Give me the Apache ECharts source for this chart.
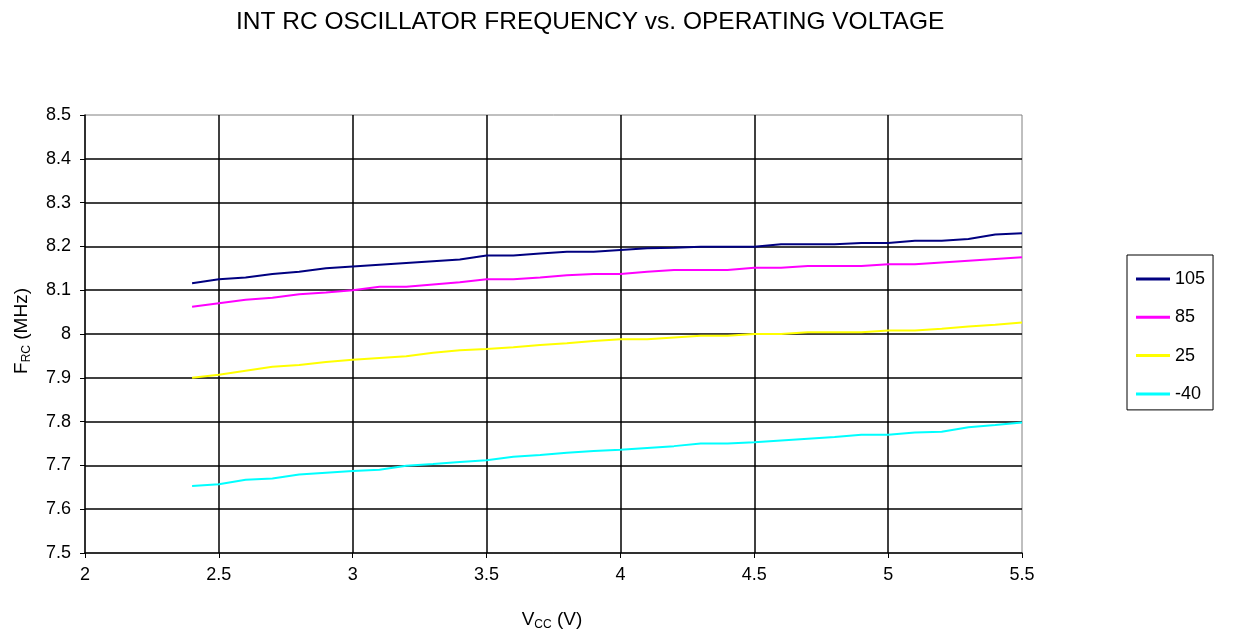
<!DOCTYPE html>
<html>
<head>
<meta charset="utf-8">
<script src="https://cdn.jsdelivr.net/npm/echarts@6/dist/echarts.min.js"></script>
<style>html,body{margin:0;padding:0;background:#fff}#c{width:1244px;height:637px}</style>
</head>
<body>
<div id="c"></div>
<script>
const vcc = [2.4,2.5,2.6,2.7,2.8,2.9,3.0,3.1,3.2,3.3,3.4,3.5,3.6,3.7,3.8,3.9,4.0,4.1,4.2,4.3,4.4,4.5,4.6,4.7,4.8,4.9,5.0,5.1,5.2,5.3,5.4,5.5];
const f105 = [8.116,8.125,8.129,8.137,8.142,8.150,8.154,8.158,8.162,8.166,8.170,8.179,8.179,8.184,8.188,8.188,8.192,8.196,8.197,8.199,8.199,8.199,8.205,8.205,8.205,8.208,8.208,8.213,8.213,8.217,8.227,8.230];
const f85 = [8.062,8.070,8.078,8.083,8.091,8.095,8.100,8.108,8.108,8.113,8.118,8.125,8.125,8.129,8.134,8.137,8.137,8.142,8.146,8.146,8.146,8.151,8.151,8.155,8.155,8.155,8.159,8.159,8.163,8.167,8.171,8.175];
const f25 = [7.900,7.907,7.916,7.925,7.929,7.936,7.941,7.945,7.949,7.957,7.963,7.966,7.970,7.975,7.979,7.984,7.988,7.988,7.992,7.996,7.996,8.000,8.000,8.004,8.004,8.004,8.008,8.008,8.012,8.017,8.021,8.026];
const fm40 = [7.653,7.657,7.667,7.670,7.679,7.683,7.687,7.690,7.699,7.703,7.708,7.712,7.720,7.724,7.729,7.733,7.736,7.740,7.744,7.750,7.750,7.753,7.757,7.761,7.765,7.770,7.770,7.775,7.777,7.787,7.792,7.798];
const seriesNames = ['105','85','25','-40'];
const seriesColors = ['#000080','#FF00FF','#FFFF00','#00FFFF'];
const seriesValues = [f105, f85, f25, fm40];

const FONT = '"Liberation Sans", Arial, sans-serif';
const chart = echarts.init(document.getElementById('c'));
chart.setOption({
  animation: false,
  backgroundColor: '#fff',
  textStyle: {fontFamily: FONT},
  title: {
    text: 'INT RC OSCILLATOR FREQUENCY vs. OPERATING VOLTAGE',
    left: 231, top: 5,
    textStyle: {fontFamily: FONT, fontSize: 24.5, fontWeight: 'normal', color: '#000'}
  },
  grid: {left: 85, right: 222, top: 115, bottom: 84, show: true, borderColor: '#808080', borderWidth: 1, backgroundColor: '#fff'},
  legend: {
    orient: 'vertical', left: 1127, top: 255,
    data: seriesNames,
    icon: 'rect', itemWidth: 34, itemHeight: 3, itemGap: 18.3,
    padding: [14, 8, 6, 9],
    borderColor: '#000', borderWidth: 1, backgroundColor: '#fff',
    textStyle: {fontFamily: FONT, fontSize: 18, color: '#000', lineHeight: 20}
  },
  xAxis: {
    type: 'value', min: 2, max: 5.5, interval: 0.5,
    axisLine: {show: true, lineStyle: {color: '#000', width: 1.5}},
    axisTick: {show: true, inside: false, length: 5, lineStyle: {color: '#000'}},
    axisLabel: {color: '#000', fontSize: 18, fontFamily: FONT, margin: 13, formatter: v => String(+v.toFixed(1))},
    splitLine: {show: true, showMinLine: false, showMaxLine: false, lineStyle: {color: '#000', width: 1.5}}
  },
  yAxis: {
    type: 'value', min: 7.5, max: 8.5, interval: 0.1,
    axisLine: {show: true, lineStyle: {color: '#000', width: 1.5}},
    axisTick: {show: true, inside: false, length: 5, lineStyle: {color: '#000'}},
    axisLabel: {color: '#000', fontSize: 18, fontFamily: FONT, margin: 14, formatter: v => String(+v.toFixed(1))},
    splitLine: {show: true, showMinLine: false, showMaxLine: false, lineStyle: {color: '#000', width: 1.5}}
  },
  graphic: [
    {
      type: 'text', x: 552, y: 620,
      style: {
        text: '{a|V}{b|CC}{a| (V)}',
        align: 'center', verticalAlign: 'middle',
        rich: {
          a: {fontSize: 19, fontFamily: FONT, fill: '#000', lineHeight: 22, verticalAlign: 'middle'},
          b: {fontSize: 12, fontFamily: FONT, fill: '#000', lineHeight: 12, verticalAlign: 'bottom'}
        }
      }
    },
    {
      type: 'text', x: 22, y: 331, rotation: Math.PI / 2,
      style: {
        text: '{a|F}{b|RC}{a| (MHz)}',
        align: 'center', verticalAlign: 'middle',
        rich: {
          a: {fontSize: 19, fontFamily: FONT, fill: '#000', lineHeight: 22, verticalAlign: 'middle'},
          b: {fontSize: 12, fontFamily: FONT, fill: '#000', lineHeight: 12, verticalAlign: 'bottom'}
        }
      }
    }
  ],
  series: seriesNames.map((n, i) => ({
    name: n, type: 'line', symbol: 'none',
    lineStyle: {color: seriesColors[i], width: 2},
    itemStyle: {color: seriesColors[i]},
    data: vcc.map((x, j) => [x, seriesValues[i][j]])
  }))
});
</script>
</body>
</html>
